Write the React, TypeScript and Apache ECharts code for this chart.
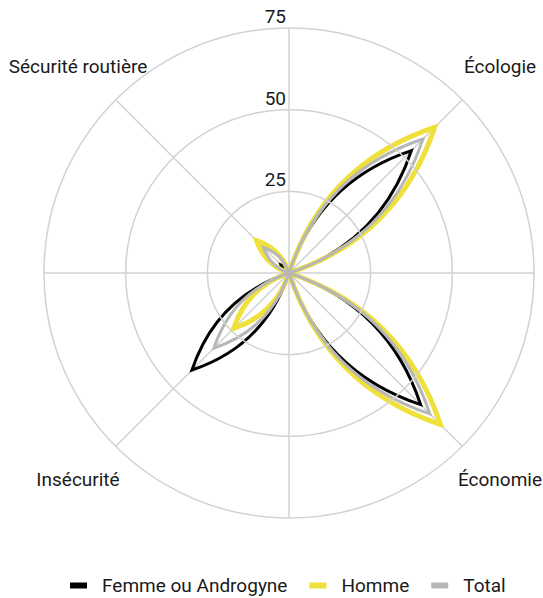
import React, { useEffect, useRef } from "react";
import * as echarts from "echarts";

const categories = ["Écologie", "Économie", "Insécurité", "Sécurité routière"];
const seriesNames = ["Femme ou Androgyne", "Homme", "Total"];
const femmeValues = [53, 57, 42, 3.5];
const hommeValues = [63, 65.5, 24, 14];
const totalValues = [58, 61, 32.5, 11];
const radiusTicks = [0, 25, 50, 75];

const colors = ["#000000", "#efe03a", "#b7b7b7"];
const lineWidths = [3, 5, 3];

const CX = 289;
const CY = 273;
const R = 245;
const PETAL_WIDTH = 0.25;

export default function App() {
  const ref = useRef<HTMLDivElement>(null);

  useEffect(() => {
    document.body.style.margin = "0";
    if (!ref.current) return;
    const chart = echarts.init(ref.current, null, { renderer: "svg" });

    const allValues = [femmeValues, hommeValues, totalValues];
    const angleOf = (i: number) => 45 + 90 * i;

    const series = allValues.map((vals, si) => ({
      type: "custom",
      name: seriesNames[si],
      coordinateSystem: "polar",
      itemStyle: { color: colors[si] },
      data: vals.map((v, i) => [v, angleOf(i)]),
      renderItem: (params: any, api: any) => {
        const val = api.value(0);
        const ang = api.value(1);
        const c = api.coord([0, ang]);
        const t = api.coord([val, ang]);
        const dx = t[0] - c[0];
        const dy = t[1] - c[1];
        const mx = (c[0] + t[0]) / 2;
        const my = (c[1] + t[1]) / 2;
        const px = -dy * PETAL_WIDTH;
        const py = dx * PETAL_WIDTH;
        const d =
          `M${c[0]},${c[1]} Q${mx + px},${my + py} ${t[0]},${t[1]} ` +
          `Q${mx - px},${my - py} ${c[0]},${c[1]} Z`;
        return {
          type: "path",
          shape: { pathData: d },
          style: {
            fill: "none",
            stroke: colors[si],
            lineWidth: lineWidths[si],
            lineJoin: "miter",
          },
        };
      },
    }));

    const labelDX = 211;
    const labelDY = 206.5;
    const signs = [
      [1, -1],
      [1, 1],
      [-1, 1],
      [-1, -1],
    ];

    chart.setOption({
      animation: false,
      textStyle: { fontFamily: "Roboto" },
      polar: { center: [CX, CY], radius: R },
      angleAxis: {
        type: "value",
        min: 0,
        max: 360,
        interval: 45,
        startAngle: 90,
        clockwise: true,
        axisLine: { show: false },
        axisTick: { show: false },
        axisLabel: { show: false },
        splitLine: { show: true, lineStyle: { color: "#d2d2d2", width: 1.5 } },
      },
      radiusAxis: {
        type: "value",
        min: radiusTicks[0],
        max: radiusTicks[radiusTicks.length - 1],
        interval: 25,
        axisLine: { show: false },
        axisTick: { show: false },
        axisLabel: {
          show: true,
          margin: 3,
          align: "right",
          verticalAlign: "bottom",
          padding: [0, 0, 2, 0],
          fontSize: 19,
          color: "#1a1a1a",
          fontFamily: "Roboto",
          formatter: (v: number) => (v === 0 ? "" : String(v)),
        },
        splitLine: { show: true, lineStyle: { color: "#d2d2d2", width: 1.5 } },
        z: 10,
      },
      legend: {
        left: 70,
        top: 576,
        padding: 0,
        icon: "rect",
        itemWidth: 17,
        itemHeight: 6,
        itemGap: 22,
        textStyle: {
          fontSize: 19,
          color: "#1a1a1a",
          fontFamily: "Roboto",
          padding: [0, 0, 0, 10],
        },
        data: seriesNames.map((n, i) => ({ name: n, itemStyle: { color: colors[i] } })),
      },
      graphic: categories.map((name, i) => ({
        type: "text",
        x: CX + signs[i][0] * labelDX,
        y: CY + signs[i][1] * labelDY,
        style: {
          text: name,
          fontSize: 19,
          fontFamily: "Roboto",
          fill: "#1a1a1a",
          align: "center",
          verticalAlign: "middle",
        },
      })),
      series,
    });

    return () => chart.dispose();
  }, []);

  return <div ref={ref} style={{ width: 543, height: 598 }} />;
}
